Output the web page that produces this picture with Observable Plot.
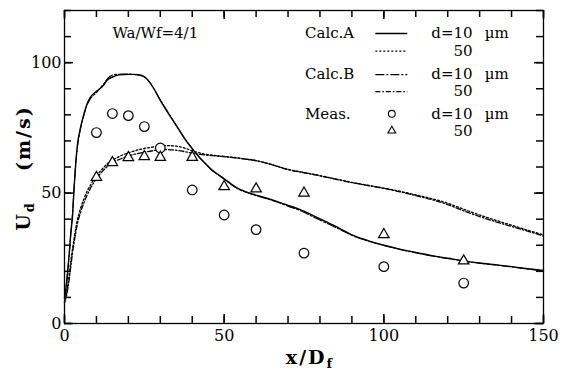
<!DOCTYPE html>
<html>
<head>
<meta charset="utf-8">
<script src="https://cdn.jsdelivr.net/npm/d3@7"></script>
<script src="https://cdn.jsdelivr.net/npm/@observablehq/plot@0.6"></script>
<style>
  body { margin: 0; background: #fff; }
  #chart svg { display: block; }
</style>
</head>
<body>
<div id="chart"></div>
<script>
// Droplet velocity U_d along the spray axis, x/D_f, for Wa/Wf = 4/1

// Calc.A, d = 10 µm (solid)
const xA10 = [0, 0.5, 1, 1.5, 2, 2.5, 3, 3.5, 4, 5, 6, 7, 8, 10, 12, 13.5, 15, 17, 20, 22, 24, 26, 28, 30, 32, 34, 36, 38, 40, 42, 44, 46, 48, 50, 54, 58, 62, 66, 70, 74, 78, 82, 86, 90, 95, 100, 105, 110, 115, 120, 125, 130, 135, 140, 145, 150];
const yA10 = [10, 14, 20, 27, 35, 41, 52, 61, 68, 75, 80, 84, 86.5, 89, 91, 93.5, 94.5, 95.3, 95.5, 95.5, 95.2, 93.5, 90, 85.5, 81.5, 77.8, 74, 70.2, 67, 64, 61.5, 59, 57.2, 55.5, 52, 50, 48.5, 47, 45.3, 43.6, 41.3, 39, 36.6, 34, 31.8, 30, 28.5, 27.2, 26, 25, 24, 23.2, 22.5, 21.8, 21, 20.3];

// Calc.A, d = 50 µm (dotted)
const xA50 = [0, 0.5, 1, 2, 2.5, 3, 4, 5, 6, 7, 8, 10, 12, 14, 16, 18, 20, 22, 25, 28, 30, 32, 35, 38, 40, 44, 48, 52, 56, 60, 65, 70, 75, 80, 85, 90, 95, 100, 105, 110, 115, 120, 125, 130, 135, 140, 145, 150];
const yA50 = [8, 11, 14.5, 24, 28.5, 32.5, 39.5, 44, 47.5, 50.5, 52.8, 56.5, 59.5, 61.8, 63.3, 64.5, 65.4, 66.2, 67.1, 67.7, 68, 68.2, 68, 67.1, 66.2, 64.9, 64.3, 63.8, 63.2, 62.5, 60.9, 59.1, 57.9, 56.7, 55.4, 54.1, 53, 51.9, 50.7, 49.3, 47.9, 46.1, 43.8, 41.6, 39.6, 37.7, 35.8, 34];

// Calc.B, d = 10 µm (long dash-dot)
const xB10 = [0, 0.5, 1, 1.5, 2, 2.5, 3, 3.5, 4, 5, 6, 7, 8, 10, 12, 14, 16, 18, 20, 22, 24, 26, 28, 30, 32, 34, 36, 38, 40, 42, 44, 46, 48, 50, 54, 58, 62, 66, 70, 74, 78, 82, 86, 90, 95, 100, 105, 110, 115, 120, 125, 130, 135, 140, 145, 150];
const yB10 = [10, 14, 20, 27, 35, 42, 52, 61, 67, 74.5, 79.5, 83.5, 86, 88.5, 91.5, 94.5, 95.5, 95.6, 95.6, 95.4, 95, 93.5, 90, 85.8, 81.8, 77.9, 74, 70.3, 67.1, 64.1, 61.4, 59, 57.1, 55.3, 51.8, 49.8, 48.3, 46.8, 45, 43.2, 40.8, 38.5, 36.2, 33.8, 31.6, 29.9, 28.4, 27.1, 25.9, 24.9, 23.9, 23.1, 22.4, 21.7, 20.9, 20.2];

// Calc.B, d = 50 µm (dash-dot)
const xB50 = [0, 0.5, 1, 2, 2.5, 3, 4, 5, 6, 7, 8, 10, 12, 14, 16, 18, 20, 22, 25, 28, 30, 32, 35, 38, 40, 44, 48, 52, 56, 60, 65, 70, 75, 80, 85, 90, 95, 100, 105, 110, 115, 120, 125, 130, 135, 140, 145, 150];
const yB50 = [8, 10, 13, 22, 27, 31, 38, 42.5, 46, 49, 51.5, 55.5, 58.5, 60.8, 62.3, 63.3, 64.2, 64.9, 65.7, 66.3, 66.6, 66.7, 66.4, 65.8, 65.3, 64.6, 64.2, 63.7, 63.1, 62.4, 60.8, 59, 57.8, 56.6, 55.3, 54, 52.9, 51.8, 50.5, 49, 47.5, 45.6, 43.2, 41, 39, 37.2, 35.4, 33.5];

// Measurements
const xMeas = [10, 15, 20, 25, 30, 40, 50, 60, 75, 100, 125];
const yMeas10 = [73.2, 80.5, 79.7, 75.5, 67.3, 51.2, 41.6, 36, 27, 21.8, 15.5];
const yMeas50 = [56, 61.7, 63.6, 64, 63.7, 63.7, 52.5, 51.6, 50, 34.1, 24];

// Axis ticks
const xDomain = [0, 150];
const yDomain = [0, 120];
const xMajor = [0, 50, 100, 150];
const yMajor = [0, 50, 100];
const xMinor = d3.range(0, 151, 10);
const yMinor = d3.range(0, 121, 10);

// Legend entries
const legendGroups = ["Calc.A", "Calc.B", "Meas."];
const legendSizes = ["d=10", "50"];
const legendUnit = "µm";
const caseLabel = "Wa/Wf=4/1";

const W = 562, H = 378, mL = 64, mR = 19, mT = 10, mB = 55;
// data units per pixel, so the inward ticks keep a fixed pixel length
const ux = (xDomain[1] - xDomain[0]) / (W - mL - mR);
const uy = (yDomain[1] - yDomain[0]) / (H - mT - mB);

const toRows = (xs, ys) => xs.map((x, i) => ({x, y: ys[i]}));

const series = [
  {rows: toRows(xA10, yA10), dash: null, width: 1.4},
  {rows: toRows(xA50, yA50), dash: "2,2", width: 1.3},
  {rows: toRows(xB10, yB10), dash: "9,2,2,2", width: 1.1},
  {rows: toRows(xB50, yB50), dash: "5,2,1.5,2", width: 1.3}
];

// Legend layout in data units (inside the frame, upper right)
const legTop = 111.2;
const rowY = [legTop, legTop - 6.8, legTop - 15.8, legTop - 22.3, legTop - 30.8, legTop - 37.3];
const legText = 75.3, legSample = [97.5, 107.5], legMark = 102.5, legSizeEnd = 127.8, legUnitX = 130;

const legendLabels = [];
legendGroups.forEach((g, i) => legendLabels.push({x: legText, y: rowY[2 * i], t: g}));
const sizeLabels = [];
const unitLabels = [];
legendGroups.forEach((g, i) => {
  sizeLabels.push({x: legSizeEnd, y: rowY[2 * i], t: legendSizes[0]});
  sizeLabels.push({x: legSizeEnd, y: rowY[2 * i + 1], t: legendSizes[1]});
  unitLabels.push({x: legUnitX, y: rowY[2 * i], t: legendUnit});
});
const sampleRows = series.map((s, i) => ({x1: legSample[0], x2: legSample[1], y: rowY[i], dash: s.dash, width: s.width}));

// inward ticks on the four sides of the frame
const tickMarks = (xs, ys, len) => [
  Plot.ruleX(xs, {x: d => d, y1: yDomain[0], y2: yDomain[0] + len * uy, stroke: "black", strokeWidth: 1.5}),
  Plot.ruleX(xs, {x: d => d, y1: yDomain[1], y2: yDomain[1] - len * uy, stroke: "black", strokeWidth: 1.5}),
  Plot.ruleY(ys, {y: d => d, x1: xDomain[0], x2: xDomain[0] + len * ux, stroke: "black", strokeWidth: 1.5}),
  Plot.ruleY(ys, {y: d => d, x1: xDomain[1], x2: xDomain[1] - len * ux, stroke: "black", strokeWidth: 1.5})
];

const marks = [
  Plot.frame({stroke: "black", strokeWidth: 1.3}),
  Plot.axisX({ticks: xMajor, tickSize: 0, tickPadding: 6, fontSize: 16}),
  Plot.axisY({ticks: yMajor, tickSize: 0, tickPadding: 3, fontSize: 16}),
  ...tickMarks(xMinor, yMinor, 7),
  ...tickMarks(xMajor, yMajor, 9)
];

series.forEach(s => {
  marks.push(Plot.line(s.rows, {x: "x", y: "y", stroke: "black", strokeWidth: s.width, strokeDasharray: s.dash, curve: "monotone-x"}));
});

marks.push(
  Plot.dot(toRows(xMeas, yMeas10), {x: "x", y: "y", r: 4.8, stroke: "black", strokeWidth: 1.2, fill: "white", symbol: "circle"}),
  Plot.dot(toRows(xMeas, yMeas50), {x: "x", y: "y", r: 3.9, stroke: "black", strokeWidth: 1.2, fill: "white", symbol: "triangle"}),
  // legend
  Plot.text([{x: 15, y: legTop, t: caseLabel}], {x: "x", y: "y", text: "t", textAnchor: "start", fontSize: 15, ariaLabel: "case"}),
  Plot.text(legendLabels, {x: "x", y: "y", text: "t", textAnchor: "start", fontSize: 15, ariaLabel: "legend"}),
  Plot.text(sizeLabels, {x: "x", y: "y", text: "t", textAnchor: "end", fontSize: 15, ariaLabel: "legend"}),
  Plot.text(unitLabels, {x: "x", y: "y", text: "t", textAnchor: "start", fontSize: 15, dx: 5, ariaLabel: "legend"})
);
sampleRows.forEach(r => {
  marks.push(Plot.ruleY([r], {y: "y", x1: "x1", x2: "x2", stroke: "black", strokeWidth: r.width, strokeDasharray: r.dash}));
});
marks.push(
  Plot.dot([{x: legMark, y: rowY[4]}], {x: "x", y: "y", r: 3.4, stroke: "black", strokeWidth: 1.1, symbol: "circle"}),
  Plot.dot([{x: legMark, y: rowY[5]}], {x: "x", y: "y", r: 2.9, stroke: "black", strokeWidth: 1.1, symbol: "triangle"})
);

const chart = Plot.plot({
  width: W,
  height: H,
  marginLeft: mL,
  marginRight: mR,
  marginTop: mT,
  marginBottom: mB,
  style: {fontFamily: "'DejaVu Serif', 'Liberation Serif', serif", fontSize: "16px", color: "black", background: "white"},
  x: {domain: xDomain, label: null},
  y: {domain: yDomain, label: null},
  marks
});

const svg = d3.select(chart);
svg.selectAll('g[aria-label="legend"] text, g[aria-label="case"] text').style("letter-spacing", "1.6px");

// axis titles with subscripts
const xt = svg.append("text")
  .attr("x", 310).attr("y", 364)
  .attr("text-anchor", "middle")
  .attr("font-weight", "bold").attr("font-size", 19)
  .attr("letter-spacing", "2px")
  .attr("fill", "black");
xt.append("tspan").text("x/D");
xt.append("tspan").attr("baseline-shift", "-30%").attr("font-size", 13).text("f");

const yt = svg.append("text")
  .attr("transform", "translate(30,168) rotate(-90)")
  .attr("text-anchor", "middle")
  .attr("font-weight", "bold").attr("font-size", 19)
  .attr("letter-spacing", "2px")
  .attr("fill", "black");
yt.append("tspan").text("U");
yt.append("tspan").attr("baseline-shift", "-30%").attr("font-size", 13).text("d");
yt.append("tspan").attr("dx", 30).text("(m/s)");

document.getElementById("chart").append(chart);
</script>
</body>
</html>
